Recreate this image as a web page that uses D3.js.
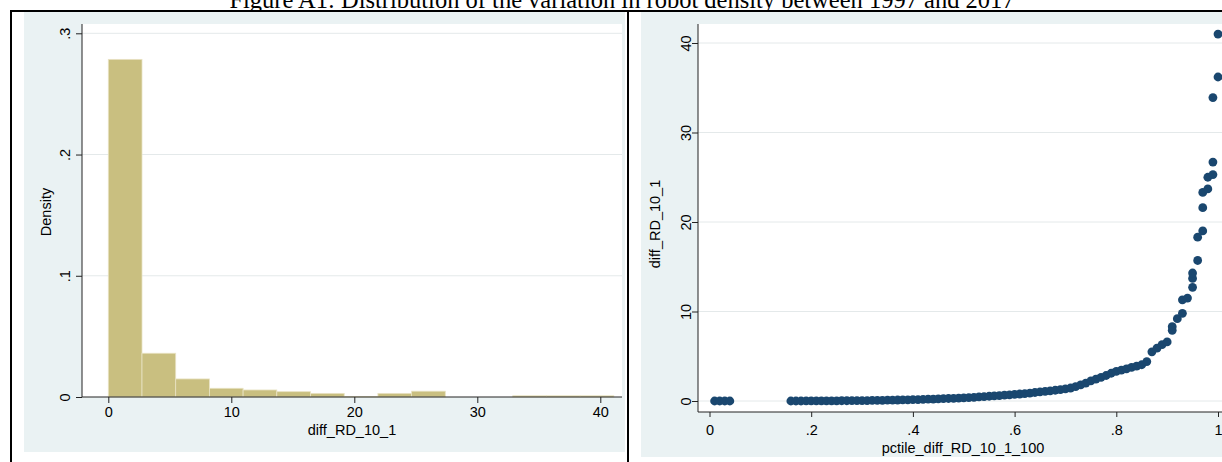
<!DOCTYPE html>
<html>
<head>
<meta charset="utf-8">
<script src="https://cdn.jsdelivr.net/npm/d3@7"></script>
<style>
  body { margin: 0; background: #fff; }
  svg { display: block; font-family: "Liberation Sans", Arial, sans-serif; }
</style>
</head>
<body>
<svg id="fig" width="1222" height="462"></svg>
<script>
const title = 'Figure A1: Distribution of the variation in robot density between 1997 and 2017';

// left panel: histogram of diff_RD_10_1
const binEdges = [0, 2.74, 5.48, 8.22, 10.96, 13.7, 16.44, 19.18, 21.92, 24.66, 27.4, 30.14, 32.88, 35.62, 38.36, 41.1];
const density = [0.2785, 0.0361, 0.0149, 0.0072, 0.0058, 0.0044, 0.003, 0.0004, 0.003, 0.0048, 0, 0, 0.001, 0.001, 0.001];
const histXTicks = [0, 10, 20, 30, 40];
const histYTicks = [0, 0.1, 0.2, 0.3];

// right panel: diff_RD_10_1 against its percentile
const pctile = [
  0.01, 0.02, 0.03, 0.04,
  0.16, 0.17, 0.18, 0.19, 0.20, 0.21, 0.22, 0.23, 0.24, 0.25,
  0.26, 0.27, 0.28, 0.29, 0.30, 0.31, 0.32, 0.33, 0.34, 0.35,
  0.36, 0.37, 0.38, 0.39, 0.40, 0.41, 0.42, 0.43, 0.44, 0.45,
  0.46, 0.47, 0.48, 0.49, 0.50, 0.51, 0.52, 0.53, 0.54, 0.55,
  0.56, 0.57, 0.58, 0.59, 0.60, 0.61, 0.62, 0.63, 0.64, 0.65,
  0.66, 0.67, 0.68, 0.69, 0.70, 0.71, 0.72, 0.73, 0.74, 0.75,
  0.76, 0.77, 0.78, 0.79, 0.80, 0.81, 0.82, 0.83, 0.84, 0.85,
  0.86, 0.87, 0.88, 0.89, 0.90, 0.91, 0.91, 0.92, 0.93, 0.93,
  0.94, 0.95, 0.95, 0.95, 0.96, 0.96, 0.97, 0.97, 0.97, 0.98,
  0.98, 0.99, 0.99, 0.99, 1.00, 1.00
];
const diffRD = [
  0, 0, 0, 0,
  0.00, 0.00, 0.00, 0.01, 0.01, 0.01, 0.01, 0.02, 0.02, 0.02,
  0.03, 0.03, 0.04, 0.04, 0.05, 0.05, 0.06, 0.07, 0.08, 0.09,
  0.10, 0.11, 0.12, 0.13, 0.15, 0.16, 0.18, 0.20, 0.22, 0.24,
  0.26, 0.28, 0.30, 0.32, 0.35, 0.38, 0.41, 0.45, 0.49, 0.53,
  0.57, 0.61, 0.65, 0.69, 0.73, 0.78, 0.83, 0.89, 0.95, 1.02,
  1.08, 1.14, 1.20, 1.26, 1.35, 1.45, 1.60, 1.80, 2.00, 2.25,
  2.45, 2.65, 2.85, 3.10, 3.30, 3.45, 3.60, 3.75, 3.90, 4.05,
  4.40, 5.50, 5.90, 6.30, 6.60, 7.90, 8.30, 9.20, 9.80, 11.30,
  11.50, 12.70, 13.70, 14.30, 15.70, 18.30, 19.00, 21.60, 23.30, 23.70,
  25.00, 25.30, 26.70, 33.90, 36.20, 41.00
];
const scatXTicks = [0, 0.2, 0.4, 0.6, 0.8, 1];
const scatYTicks = [0, 10, 20, 30, 40];

const bgColor = '#eaf2f3';
const gridColor = '#e4e9ea';
const axisColor = '#222';
const fontSize = 14.5;

// stata style: .2 instead of 0.2
const stataFmt = d => d === 0 ? '0' : String(+d.toFixed(2)).replace(/^0\./, '.');

const svg = d3.select('#fig');

// ---- title (top is cropped in the original too)
svg.append('text')
  .attr('x', 622).attr('y', 8)
  .attr('text-anchor', 'middle')
  .style('font-family', '"Liberation Serif", "Times New Roman", serif')
  .style('font-size', '24.5px')
  .text(title);

function styleAxis(g){
  g.select('.domain').remove();
  g.selectAll('line').attr('stroke', axisColor);
  g.selectAll('text').style('font-size', fontSize + 'px').attr('fill', '#000');
}

// ---- left panel
const left = svg.append('g');
left.append('rect').attr('x', 24).attr('y', 12).attr('width', 601).attr('height', 440).attr('fill', bgColor);
left.append('rect').attr('x', 82).attr('y', 24).attr('width', 540).attr('height', 373).attr('fill', '#fff');

const hx = d3.scaleLinear().domain([0, 40]).range([108.3, 600.3]);
const hy = d3.scaleLinear().domain([0, 0.3]).range([397, 33.3]);

left.append('g').selectAll('line')
  .data(histYTicks.filter(d => d > 0))
  .enter().append('line')
    .attr('x1', 82).attr('x2', 622)
    .attr('y1', d => hy(d)).attr('y2', d => hy(d))
    .attr('stroke', gridColor);

left.append('g').selectAll('rect')
  .data(density)
  .enter().append('rect')
    .attr('x', (d, i) => hx(binEdges[i]))
    .attr('width', (d, i) => hx(binEdges[i + 1]) - hx(binEdges[i]))
    .attr('y', d => hy(d))
    .attr('height', d => hy(0) - hy(d))
    .attr('fill', '#c9bf80')
    .attr('stroke', '#e9e3c4')
    .attr('stroke-width', 0.8);

left.append('g')
  .attr('transform', 'translate(82,0)')
  .call(d3.axisLeft(hy).tickValues(histYTicks).tickFormat(stataFmt).tickSize(6))
  .call(styleAxis)
  .call(g => g.selectAll('text')
    .attr('x', null).attr('dy', null)
    .attr('text-anchor', 'middle')
    .attr('transform', 'translate(-12,0) rotate(-90)'));

left.append('g')
  .attr('transform', 'translate(0,397)')
  .call(d3.axisBottom(hx).tickValues(histXTicks).tickSize(6))
  .call(styleAxis)
  .call(g => g.selectAll('text').attr('y', 20).attr('dy', null));

left.append('line').attr('x1', 82).attr('x2', 82).attr('y1', 24).attr('y2', 397).attr('stroke', axisColor);
left.append('line').attr('x1', 82).attr('x2', 622).attr('y1', 397).attr('y2', 397).attr('stroke', axisColor);

left.append('text')
  .attr('transform', 'translate(51,212) rotate(-90)')
  .attr('text-anchor', 'middle')
  .style('font-size', fontSize + 'px')
  .text('Density');
left.append('text')
  .attr('x', 352).attr('y', 435)
  .attr('text-anchor', 'middle')
  .style('font-size', fontSize + 'px')
  .text('diff_RD_10_1');

// ---- right panel
const right = svg.append('g');
right.append('rect').attr('x', 641).attr('y', 12).attr('width', 581).attr('height', 445).attr('fill', bgColor);
right.append('rect').attr('x', 698).attr('y', 24).attr('width', 524).attr('height', 388).attr('fill', '#fff');

const sx = d3.scaleLinear().domain([0, 1]).range([709.5, 1218]);
const sy = d3.scaleLinear().domain([0, 40]).range([401, 43]);

right.append('g').selectAll('line')
  .data(scatYTicks)
  .enter().append('line')
    .attr('x1', 698).attr('x2', 1222)
    .attr('y1', d => sy(d)).attr('y2', d => sy(d))
    .attr('stroke', gridColor);

right.append('g').selectAll('circle')
  .data(pctile)
  .enter().append('circle')
    .attr('cx', d => sx(d))
    .attr('cy', (d, i) => sy(diffRD[i]))
    .attr('r', 4.4)
    .attr('fill', '#1a476f');

right.append('g')
  .attr('transform', 'translate(698,0)')
  .call(d3.axisLeft(sy).tickValues(scatYTicks).tickSize(6))
  .call(styleAxis)
  .call(g => g.selectAll('text')
    .attr('x', null).attr('dy', null)
    .attr('text-anchor', 'middle')
    .attr('transform', 'translate(-7,0) rotate(-90)'));

right.append('g')
  .attr('transform', 'translate(0,412)')
  .call(d3.axisBottom(sx).tickValues(scatXTicks).tickFormat(stataFmt).tickSize(5))
  .call(styleAxis)
  .call(g => g.selectAll('text').attr('y', 23).attr('dy', null));

right.append('line').attr('x1', 698).attr('x2', 698).attr('y1', 24).attr('y2', 412).attr('stroke', axisColor);
right.append('line').attr('x1', 698).attr('x2', 1222).attr('y1', 412).attr('y2', 412).attr('stroke', axisColor);

right.append('text')
  .attr('transform', 'translate(660,224) rotate(-90)')
  .attr('text-anchor', 'middle')
  .style('font-size', fontSize + 'px')
  .text('diff_RD_10_1');
right.append('text')
  .attr('x', 963).attr('y', 453)
  .attr('text-anchor', 'middle')
  .style('font-size', fontSize + 'px')
  .text('pctile_diff_RD_10_1_100');

// black border lines of the figure box
const border = svg.append('g').attr('stroke', '#000').attr('stroke-width', 2);
border.append('line').attr('x1', 10).attr('x2', 1222).attr('y1', 11).attr('y2', 11);
border.append('line').attr('x1', 11).attr('x2', 11).attr('y1', 10).attr('y2', 462);
border.append('line').attr('x1', 628).attr('x2', 628).attr('y1', 10).attr('y2', 462);
</script>
</body>
</html>
